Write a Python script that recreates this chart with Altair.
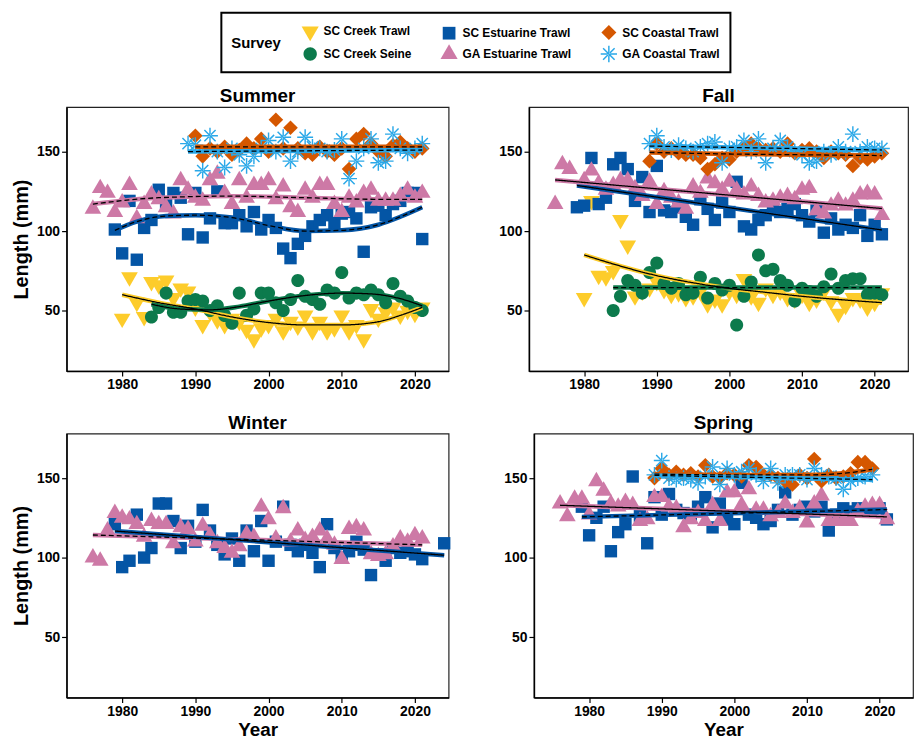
import altair as alt
import pandas as pd

# ---------------- categories / styles ----------------
SURVEYS = ["SC Creek Trawl", "SC Estuarine Trawl", "SC Coastal Trawl",
           "SC Creek Seine", "GA Estuarine Trawl", "GA Coastal Trawl"]
COLORS = ["#FDCC2B", "#0455A5", "#D55700", "#0C7A4C", "#CD79A6", "#2AA8E8"]
DRAW_ORDER = ["SC Creek Trawl", "SC Creek Seine", "SC Estuarine Trawl",
              "GA Estuarine Trawl", "SC Coastal Trawl", "GA Coastal Trawl"]

TRI_DOWN = "M-1.05,-0.62L1.05,-0.62L0,1.2Z"
TRI_UP = "M-1.05,0.62L1.05,0.62L0,-1.2Z"
CIRCLE = "M-0.82,0A0.82,0.82,0,1,1,0.82,0A0.82,0.82,0,1,1,-0.82,0Z"
SQUARE = "M-0.78,-0.78L0.78,-0.78L0.78,0.78L-0.78,0.78Z"
DIAMOND = "M0,-0.92L0.92,0L0,0.92L-0.92,0Z"
ASTERISK = ("M-1,-0.09L1,-0.09L1,0.09L-1,0.09Z"
            "M-0.09,-1L0.09,-1L0.09,1L-0.09,1Z"
            "M-0.64,-0.77L0.77,0.64L0.64,0.77L-0.77,-0.64Z"
            "M-0.64,0.77L0.77,-0.64L0.64,-0.77L-0.77,0.64Z")
SHAPES = [TRI_DOWN, SQUARE, DIAMOND, CIRCLE, TRI_UP, ASTERISK]

SEASONS = ["Summer", "Fall", "Winter", "Spring"]
X_TICKS = [1980, 1990, 2000, 2010, 2020]
Y_TICKS = [50, 100, 150]

# ---------------- point data (first year, yearly values) ----------------
SUMMER_SC_CREEK_TRAWL = [45, 71, 55, 46, 68, 66, 69, 58, 64, 62, 52, 41, 49, 44, 41, 45, 43, 38, 32, 39,
                         41, 45, 37, 43, 40, 47, 37, 43, 37, 39, 47, 37, 41, 32, 51, 45, 49, 52, 47, 50, 48, 52]
SUMMER_SC_CREEK_SEINE = [46, 52, 61, 49, 49, 56, 57, 56, 50, 53, 47, 42, 61, 47, 51, 61,
                         61, 55, 50, 57, 69, 59, 57, 54, 63, 61, 74, 58, 61, 60, 63, 60, 55, 67, 59, 56, 52, 50]
SUMMER_SC_ESTUARINE = [101, 86, 119, 82, 102, 107, 126, 117, 124, 121, 98, 124, 96, 108, 125, 105, 105, 110, 103, 112,
                       101, 107, 102, 89, 83, 92, 97, 103, 107, 110, 105, 111, 112, 108, 87, 115, 116, 110, 117, 119,
                       124, 124, 95]
SUMMER_GA_ESTUARINE = [114, 127, 124, 112, 118, 129, 108, 117, 123, 120, 115, 111, 132, 126, 121, 119, 132, 136, 124, 117,
                       132, 121, 129, 129, 132, 120, 128, 115, 112, 126, 121, 129, 129, 117, 112, 121, 118, 124, 126, 119,
                       119, 119, 122, 126, 121, 124]
SUMMER_SC_COASTAL = [160, 147, 152, 150, 153, 148, 151, 155, 152, 158, 150, 170, 152, 165, 152, 149, 148, 153, 150, 148,
                     152, 139, 158, 161, 155, 150, 147, 154, 156, 152, 150, 152]
SUMMER_GA_COASTAL = [155, 154, 138, 160, 150, 140, 152, 148, 141, 147, 152, 157, 150, 159, 144, 150, 159, 153, 152, 150,
                     151, 158, 133, 144, 152, 158, 143, 144, 161, 152, 149, 152, 155]

FALL_SC_CREEK_TRAWL = [58, 119, 72, 71, 75, 107, 91, 59, 62, 64, 68, 63, 60, 61, 58, 59, 62, 54, 57, 54,
                       62, 60, 70, 59, 55, 64, 60, 62, 58, 57, 60, 55, 57, 62, 56, 48, 53, 58, 57, 52, 55, 61]
FALL_SC_CREEK_SEINE = [50, 59, 69, 66, 61, 74, 80, 67, 64, 67, 60, 61, 71, 58, 67, 63,
                       66, 41, 59, 68, 85, 75, 76, 69, 66, 56, 64, 62, 59, 65, 73, 64, 69, 70, 70, 60, 61, 60]
FALL_SC_ESTUARINE = [115, 116, 146, 117, 121, 142, 146, 139, 119, 134, 112, 141, 113, 112, 115, 109, 104, 120, 114, 107,
                     118, 112, 131, 103, 101, 107, 110, 115, 112, 114, 117, 110, 106, 113, 99, 108, 101, 104, 102, 110,
                     97, 104, 98]
FALL_GA_ESTUARINE_EARLY = [117, 142, 139]
FALL_GA_ESTUARINE = [132, 138, 130, 126, 129, 132, 132, 127, 122, 131, 117, 125, 121, 118, 114, 128, 124, 133, 130, 126,
                     131, 126, 123, 128, 122, 118, 119, 121, 122, 120, 126, 127, 113, 111, 116, 119, 116, 119, 123, 124,
                     123, 110]
FALL_SC_COASTAL = [144, 155, 150, 152, 149, 148, 148, 146, 139, 142, 146, 145, 150, 152, 155, 152, 151, 152, 150, 155,
                   149, 151, 152, 150, 146, 150, 149, 148, 141, 146, 145, 147, 149]
FALL_GA_COASTAL = [155, 160, 153, 151, 154, 152, 150, 153, 155, 156, 143, 152, 153, 157, 150, 158, 143, 152, 157, 153,
                   150, 148, 143, 144, 150, 148, 153, 150, 161, 150, 153, 152, 152]

WINTER_SC_ESTUARINE = [121, 94, 98, 127, 100, 106, 134, 134, 123, 106, 120, 110, 130, 117, 108, 102, 112, 98, 117, 104,
                       123, 98, 110, 132, 108, 104, 108, 103, 94, 121, 106, 100, 104, 110, 105, 89, 102, 98, 106, 103,
                       104, 102, 99]
WINTER_SC_ESTUARINE_LATE = [109]
WINTER_GA_ESTUARINE = [100, 98, 117, 128, 125, 124, 121, 113, 123, 121, 121, 109, 119, 118, 110, 120, 114, 109, 106, 103,
                       107, 115, 113, 132, 124, 112, 131, 110, 117, 111, 113, 117, 112, 108, 99, 118, 119, 117, 102, 101,
                       102, 107, 112, 110, 114, 112]

SPRING_SC_ESTUARINE = [132, 114, 125, 132, 104, 116, 121, 151, 126, 109, 138, 127, 140, 130, 128, 126, 132, 138, 119, 134,
                       124, 121, 147, 127, 125, 121, 123, 130, 141, 127, 130, 132, 129, 132, 117, 127, 131, 129, 131, 130,
                       129, 131, 124]
SPRING_GA_ESTUARINE = [134, 126, 137, 137, 127, 148, 142, 134, 132, 135, 133, 123, 124, 138, 138, 132, 131, 119, 124, 128,
                       123, 133, 123, 141, 141, 133, 143, 130, 130, 126, 128, 134, 128, 131, 122, 134, 139, 123, 123, 123,
                       123, 129, 132, 133, 133, 124]
SPRING_SC_COASTAL = [150, 156, 152, 154, 152, 153, 151, 158, 151, 150, 153, 152, 151, 158, 157, 152, 152, 150, 148, 146,
                     152, 150, 162, 148, 152, 150, 151, 153, 160, 160, 156]
SPRING_GA_COASTAL = [152, 161, 150, 149, 150, 149, 147, 151, 157, 146, 156, 152, 154, 156, 152, 148, 156, 147, 152, 152,
                     152, 149, 156, 152, 151, 150, 143, 148, 150, 151, 152]

POINT_SERIES = [
    ("Summer", "SC Creek Trawl", 1980, SUMMER_SC_CREEK_TRAWL),
    ("Summer", "SC Creek Seine", 1984, SUMMER_SC_CREEK_SEINE),
    ("Summer", "SC Estuarine Trawl", 1979, SUMMER_SC_ESTUARINE),
    ("Summer", "GA Estuarine Trawl", 1976, SUMMER_GA_ESTUARINE),
    ("Summer", "SC Coastal Trawl", 1990, SUMMER_SC_COASTAL),
    ("Summer", "GA Coastal Trawl", 1989, SUMMER_GA_COASTAL),
    ("Fall", "SC Creek Trawl", 1980, FALL_SC_CREEK_TRAWL),
    ("Fall", "SC Creek Seine", 1984, FALL_SC_CREEK_SEINE),
    ("Fall", "SC Estuarine Trawl", 1979, FALL_SC_ESTUARINE),
    ("Fall", "GA Estuarine Trawl", 1976, FALL_GA_ESTUARINE_EARLY),
    ("Fall", "GA Estuarine Trawl", 1980, FALL_GA_ESTUARINE),
    ("Fall", "SC Coastal Trawl", 1989, FALL_SC_COASTAL),
    ("Fall", "GA Coastal Trawl", 1989, FALL_GA_COASTAL),
    ("Winter", "SC Estuarine Trawl", 1979, WINTER_SC_ESTUARINE),
    ("Winter", "SC Estuarine Trawl", 2024, WINTER_SC_ESTUARINE_LATE),
    ("Winter", "GA Estuarine Trawl", 1976, WINTER_GA_ESTUARINE),
    ("Spring", "SC Estuarine Trawl", 1979, SPRING_SC_ESTUARINE),
    ("Spring", "GA Estuarine Trawl", 1976, SPRING_GA_ESTUARINE),
    ("Spring", "SC Coastal Trawl", 1989, SPRING_SC_COASTAL),
    ("Spring", "GA Coastal Trawl", 1989, SPRING_GA_COASTAL),
]

# ---------------- fitted trend lines (years, values, significance) ----------------
TRENDS = [
    ("Summer", "SC Creek Trawl", "sig", [1980, 1985, 1990, 1995, 2000, 2005, 2010, 2015, 2018, 2021],
     [60, 55, 51, 46, 42.5, 41, 41, 43, 47, 52]),
    ("Summer", "SC Creek Seine", "sig", [1984, 1988, 1992, 1996, 2000, 2005, 2010, 2014, 2018, 2021],
     [54, 51, 50.5, 52.5, 56, 59.5, 61, 60.5, 57.5, 53]),
    ("Summer", "SC Estuarine Trawl", "ns", [1979, 1982, 1986, 1990, 1995, 2000, 2005, 2010, 2015, 2018, 2021],
     [100.5, 106, 109.5, 110, 108.5, 103.5, 100, 100.5, 104, 109, 115]),
    ("Summer", "GA Estuarine Trawl", "ns", [1976, 1985, 1995, 2005, 2015, 2021], [117, 121, 122, 121, 120, 120]),
    ("Summer", "SC Coastal Trawl", "ns", [1990, 2021], [153, 153]),
    ("Summer", "GA Coastal Trawl", "ns", [1989, 2021], [150, 151]),
    ("Fall", "SC Creek Trawl", "sig", [1980, 1985, 1990, 1995, 2000, 2005, 2010, 2015, 2021],
     [85, 78, 72, 67.5, 64, 61.5, 59, 57, 55]),
    ("Fall", "SC Creek Seine", "ns", [1984, 2021], [64.5, 64.5]),
    ("Fall", "SC Estuarine Trawl", "sig", [1979, 2021], [128.7, 100.7]),
    ("Fall", "GA Estuarine Trawl", "sig", [1976, 2021], [132.2, 114.2]),
    ("Fall", "SC Coastal Trawl", "ns", [1989, 2000, 2010, 2021], [149.5, 148.5, 148, 147.5]),
    ("Fall", "GA Coastal Trawl", "ns", [1989, 2021], [153.5, 151]),
    ("Winter", "GA Estuarine Trawl", "ns", [1976, 2021], [114.2, 108]),
    ("Winter", "SC Estuarine Trawl", "sig", [1979, 2024], [116.7, 101.5]),
    ("Spring", "GA Estuarine Trawl", "sig", [1976, 2021], [132.9, 125.6]),
    ("Spring", "SC Estuarine Trawl", "ns", [1979, 2021], [125.6, 130.2]),
    ("Spring", "SC Coastal Trawl", "ns", [1989, 2000, 2010, 2015, 2019], [152.5, 152, 152, 153, 155.5]),
    ("Spring", "GA Coastal Trawl", "ns", [1989, 2019], [151.7, 149]),
]

# ---------------- tables ----------------
rows = []
for season, survey, first, vals in POINT_SERIES:
    for i, v in enumerate(vals):
        rows.append({"season": season, "survey": survey, "year": first + i, "length": v,
                     "ord": DRAW_ORDER.index(survey)})
points = pd.DataFrame(rows).sort_values("ord", kind="stable")

trows = []
for season, survey, sig, yrs, vals in TRENDS:
    for y, v in zip(yrs, vals):
        trows.append({"season": season, "survey": survey, "sig": sig, "year": y, "length": v})
trends = pd.DataFrame(trows)

FONT = "Liberation Sans"
X_SCALE = alt.Scale(domain=[1972.4, 2024.6], nice=False, zero=False)
Y_SCALE = alt.Scale(domain=[12, 178], nice=False, zero=False)
COLOR_SCALE = alt.Scale(domain=SURVEYS, range=COLORS)
SHAPE_SCALE = alt.Scale(domain=SURVEYS, range=SHAPES)

LEGEND = alt.Legend(
    title="Survey", orient="none", legendX=156, legendY=-95, offset=0, direction="horizontal", columns=3,
    titleOrient="left", titleAnchor="middle", titleBaseline="middle", titleFontSize=15,
    titleFont=FONT, titleFontWeight="bold", titlePadding=20, titleColor="black",
    labelFont=FONT, labelFontSize=12, labelFontWeight="bold", labelColor="black",
    symbolSize=270, symbolOpacity=1, symbolStrokeWidth=0, columnPadding=28, rowPadding=2,
    padding=10, strokeColor="black", fillColor="white", labelOffset=5,
)

PANEL_W = {"Summer": 385, "Fall": 382, "Winter": 385, "Spring": 382}
PANEL_H = 266


def panel(season, y_title, x_title):
    x_axis = alt.Axis(values=X_TICKS, format="d", title="Year" if x_title else None)
    y_axis = alt.Axis(values=Y_TICKS, title="Length (mm)" if y_title else None)
    pts = alt.Chart(points).transform_filter(alt.datum.season == season).mark_point(
        filled=True, opacity=1, size=256
    ).encode(
        x=alt.X("year:Q", scale=X_SCALE, axis=x_axis),
        y=alt.Y("length:Q", scale=Y_SCALE, axis=y_axis),
        color=alt.Color("survey:N", scale=COLOR_SCALE, legend=LEGEND),
        shape=alt.Shape("survey:N", scale=SHAPE_SCALE, legend=LEGEND),
        order=alt.Order("ord:Q"),
    )
    tr = alt.Chart(trends).transform_filter(alt.datum.season == season)
    halo = tr.mark_line(strokeWidth=4.5, interpolate="monotone").encode(
        x="year:Q", y="length:Q",
        stroke=alt.Stroke("survey:N", scale=alt.Scale(domain=SURVEYS, range=COLORS), legend=None),
        detail="survey:N",
    )
    core = tr.mark_line(strokeWidth=1.3, color="black", interpolate="monotone").encode(
        x="year:Q", y="length:Q", detail="survey:N",
        strokeDash=alt.StrokeDash("sig:N", scale=alt.Scale(domain=["sig", "ns"], range=[[1, 0], [5, 3]]),
                                  legend=None),
    )
    return alt.layer(pts, halo, core).properties(
        width=PANEL_W[season], height=PANEL_H,
        title=alt.TitleParams(season, fontSize=19, font=FONT, fontWeight="bold", color="black", offset=1),
    )


row1 = alt.hconcat(panel("Summer", True, False), panel("Fall", False, False), spacing=49)
row2 = alt.hconcat(panel("Winter", True, True), panel("Spring", False, True), spacing=49)

chart = alt.vconcat(row1, row2, spacing=20).resolve_scale(
    color="shared", shape="shared"
).properties(
    padding={"left": 3, "top": 1, "right": 0, "bottom": 0}
).configure_view(
    stroke="#222", strokeWidth=1.2
).configure_legend(
    strokeWidth=2
).configure_axis(
    grid=False, labelFont=FONT, labelFontSize=14, labelFontWeight="bold", labelColor="black",
    titleFont=FONT, titleFontSize=19, titleFontWeight="bold", titleColor="black",
    domainColor="black", domainWidth=1.5, tickColor="black", tickSize=5, tickWidth=1.2, labelPadding=2,
).configure_axisY(titlePadding=5, titleFontSize=20).configure_axisX(titlePadding=2)

chart.save("out.html", embed_options={"renderer": "svg", "actions": False})
